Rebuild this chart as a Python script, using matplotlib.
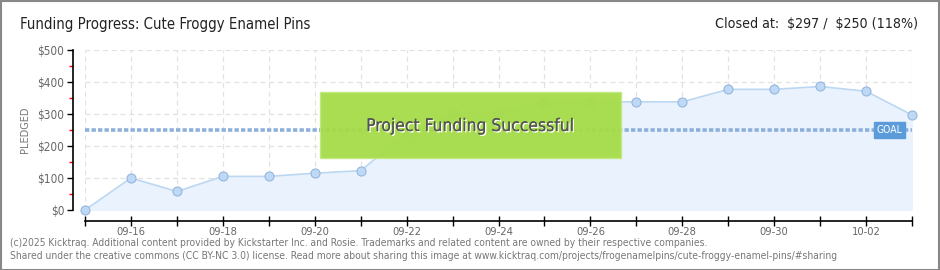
import datetime as dt
import matplotlib
matplotlib.use("Agg")
import matplotlib.pyplot as plt
import matplotlib.dates as mdates
from matplotlib.patches import Rectangle
import matplotlib.patheffects as pe

plt.rcParams['font.family'] = ['DejaVu Sans']
plt.rcParams['font.stretch'] = 'condensed'

# data
start = dt.date(2025, 9, 15)
days = [start + dt.timedelta(days=i) for i in range(19)]
pledged = [0, 100, 58, 105, 105, 115, 123, 240, 302, 302, 338, 338, 338, 338,
           377, 377, 386, 371, 297]
goal = 250
title = "Funding Progress: Cute Froggy Enamel Pins"
closed_text = r"Closed at:  \$297 /  \$250 (118%)"
footer = ["(c)2025 Kicktraq. Additional content provided by Kickstarter Inc. and Rosie. "
          "Trademarks and related content are owned by their respective companies.",
          "Shared under the creative commons (CC BY-NC 3.0) license. Read more about sharing "
          "this image at www.kicktraq.com/projects/frogenamelpins/cute-froggy-enamel-pins/#sharing"]

W, H = 940, 270
fig = plt.figure(figsize=(W / 100, H / 100), dpi=100)
fig.patch.set_facecolor('white')
fig.add_artist(Rectangle((0.5 / W, 0.5 / H), 1 - 1.5 / W, 1 - 1.5 / H, transform=fig.transFigure,
                         fill=False, edgecolor='#888888', linewidth=1.5))

ax = fig.add_axes([85 / W, 1 - 210 / H, (912 - 85) / W, 160 / H])
x = mdates.date2num(days)
ax.set_xlim(x[0], x[-1])
ax.set_ylim(0, 500)

grid_c = '#e2e2e2'
for xi in x:
    ax.axvline(xi, color=grid_c, lw=0.9, ls=(0, (4, 3)), zorder=0)
for yv in range(0, 501, 100):
    ax.axhline(yv, color=grid_c, lw=0.9, ls=(0, (4, 3)), zorder=0)

ax.fill_between(x, pledged, 0, color='#eaf3fd', zorder=1)
ax.plot(x, pledged, color='#bcd7f2', lw=1.2, zorder=2)
ax.plot(x, pledged, 'o', ms=6.5, mfc='#bed9f6', mec='#95b6dc', mew=0.8, zorder=3, clip_on=False)

ax.axhline(goal, color='#8db0da', lw=2.6, ls=(0, (1.2, 0.6)), zorder=2)
ax.text(x[-1] - 0.5, goal, "GOAL", color='white', fontsize=7.5, ha='center', va='center',
        zorder=6, bbox=dict(boxstyle='square,pad=0.25', fc='#5b9bd9', ec='#5b9bd9'))

# success banner
bx0, bx1, by0, by1 = 320, 621, 92, 158
fig.add_artist(Rectangle((bx0 / W, 1 - by1 / H), (bx1 - bx0) / W, (by1 - by0) / H,
                         transform=fig.transFigure, facecolor='#a6dc48', edgecolor='#c2e880',
                         linewidth=1, alpha=0.95, zorder=5))
fig.text((bx0 + bx1) / 2 / W, 1 - 126 / H, "Project Funding Successful", ha='center', va='center',
         fontsize=12.5, color='#555555', zorder=6,
         path_effects=[pe.withSimplePatchShadow(offset=(1, -1), shadow_rgbFace='white', alpha=1),
                       pe.Normal()])

for s in ['top', 'right']:
    ax.spines[s].set_visible(False)
ax.spines['left'].set_position(('outward', 9))
ax.spines['bottom'].set_position(('outward', 8))
ax.spines['left'].set_linewidth(1.2)
ax.spines['bottom'].set_linewidth(1.2)

ax.set_yticks(range(0, 501, 100))
ax.set_yticklabels([r'\$%d' % v for v in range(0, 501, 100)])
ax.set_yticks(range(50, 500, 100), minor=True)
ax.tick_params(axis='y', which='major', length=4, width=1, colors='black', labelcolor='#666666',
               labelsize=8.5, pad=2)
ax.tick_params(axis='y', which='minor', length=3, width=1, colors='red')

ax.set_xticks(x)
ax.set_xticklabels([d.strftime('%m-%d') if i % 2 == 1 else '' for i, d in enumerate(days)])
ax.tick_params(axis='x', length=7, width=1, direction='inout', labelcolor='#666666',
               labelsize=8, pad=1)
ax.set_ylabel("PLEDGED", color='#777777', fontsize=7, fontstretch='normal')
ax.yaxis.set_label_coords((30 - 85) / 827, 0.5)
ax.set_facecolor('none')

fig.text(20 / W, 1 - 24 / H, title, fontsize=10.7, color='#222222', va='center', ha='left')
fig.text(918 / W, 1 - 24 / H, closed_text, fontsize=10.2, color='#222222', va='center', ha='right')
fig.text(10 / W, 1 - 243 / H, footer[0], fontsize=7.4, color='#777777', va='center')
fig.text(10 / W, 1 - 256 / H, footer[1], fontsize=7.4, color='#777777', va='center')

fig.savefig('out.png', dpi=100, facecolor='white')
